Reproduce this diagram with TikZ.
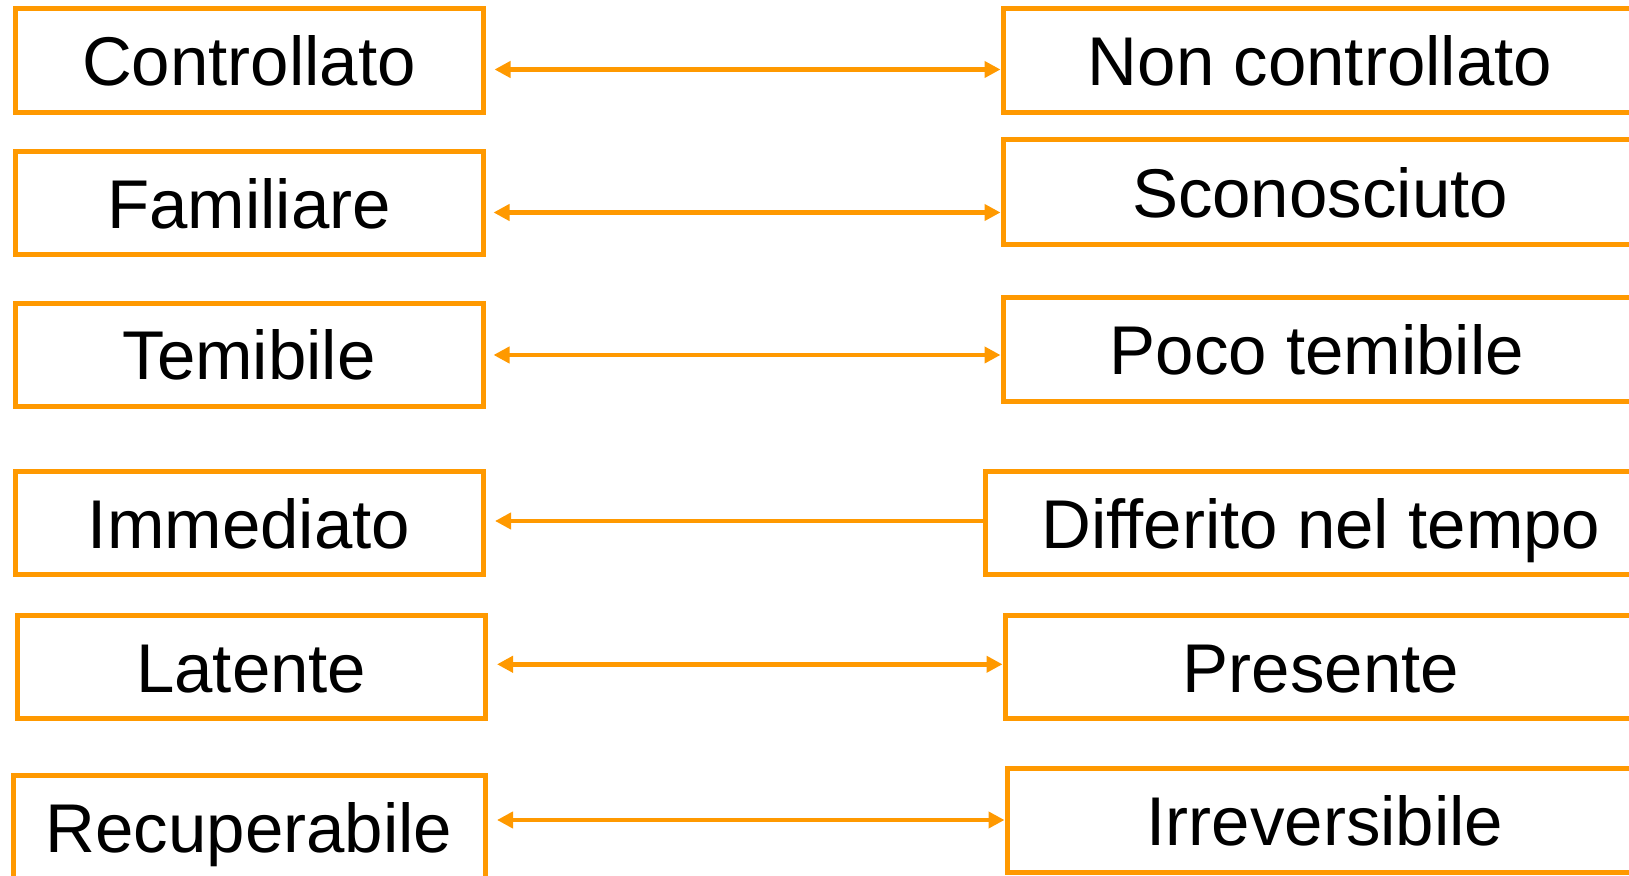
\documentclass[tikz,border=0pt]{standalone}
\usepackage{fontspec}
\setmainfont{Liberation Sans}
\usetikzlibrary{arrows.meta}
\definecolor{boxorange}{RGB}{255,153,0}
\begin{document}
\begin{tikzpicture}[x=1pt,y=1pt,
  termbox/.style={draw=boxorange, line width=5pt, rectangle, inner sep=0pt,
    font=\fontsize{69}{83}\selectfont, text height=49.5pt, text depth=0pt, text=black},
  pairarrow/.style={draw=boxorange, line width=4.5pt,
    {Triangle[length=16pt,width=16pt]}-{Triangle[length=16pt,width=16pt]}},
  leftarrow/.style={draw=boxorange, line width=4.5pt, -{Triangle[length=16pt,width=16pt]}}]
\useasboundingbox (0,0) rectangle (1629,875);
\clip (0,0) rectangle (1629,875);

% left column
\node[termbox, minimum width=468pt, minimum height=104pt] (L1) at (249,814) {Controllato};
\node[termbox, minimum width=468pt, minimum height=103pt] (L2) at (249,671.5) {Familiare};
\node[termbox, minimum width=468pt, minimum height=103pt] (L3) at (249,520) {Temibile};
\node[termbox, minimum width=468pt, minimum height=103pt] (L4) at (249,351.5) {Immediato};
\node[termbox, minimum width=467.5pt, minimum height=103pt] (L5) at (251.25,207.5) {Latente};
\node[termbox, minimum width=472pt, minimum height=103pt] (L6) at (249,47.5) {Recuperabile};

% right column
\node[termbox, minimum width=634pt, minimum height=104pt] (R1) at (1320,814) {Non controllato};
\node[termbox, minimum width=634pt, minimum height=105pt] (R2) at (1320,682.5) {Sconosciuto};
\node[termbox, minimum width=628pt, minimum height=104.5pt] (R3) at (1317,525.25) {Poco temibile};
\node[termbox, minimum width=672pt, minimum height=103pt] (R4) at (1321,351.5) {Differito nel tempo};
\node[termbox, minimum width=632pt, minimum height=103pt] (R5) at (1321,207.5) {Presente};
\node[termbox, minimum width=636pt, minimum height=103pt] (R6) at (1325,54.5) {Irreversibile};

% arrow start points
\coordinate (a1) at ([shift={(9pt,-8.5pt)}]L1.east);
\coordinate (a2) at ([shift={(8pt,-9pt)}]L2.east);
\coordinate (a3) at ([shift={(8pt,0pt)}]L3.east);
\coordinate (a4) at ([shift={(9.5pt,2.5pt)}]L4.east);
\coordinate (a5) at ([shift={(9.5pt,3.2pt)}]L5.east);
\coordinate (a6) at ([shift={(9.5pt,7.5pt)}]L6.east);

\draw[pairarrow] (a1) -- (a1 -| R1.west);
\draw[pairarrow] (a2) -- (a2 -| R2.west);
\draw[pairarrow] (a3) -- (a3 -| R3.west);
\draw[leftarrow] (a4 -| R4.west) -- (a4);
\draw[pairarrow] (a5) -- (a5 -| R5.west);
\draw[pairarrow] (a6) -- (a6 -| R6.west);
\end{tikzpicture}
\end{document}
